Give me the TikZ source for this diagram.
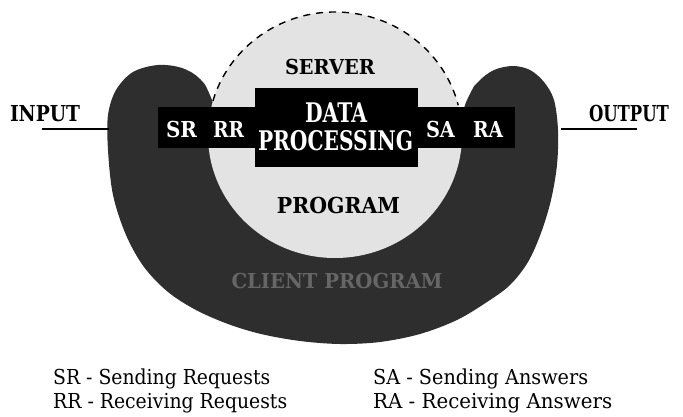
\documentclass[tikz,border=0pt]{standalone}
\usepackage{fontspec}
\setmainfont{DejaVu Serif}
\newfontfamily\dserif{DejaVu Serif}
\newcommand{\fitw}[3]{\resizebox{#1pt}{\height}{\dserif\fontsize{#2}{#2}\selectfont #3}}
\newcommand{\fitwb}[3]{\resizebox{#1pt}{\height}{\dserif\fontsize{#2}{#2}\selectfont\bfseries #3}}
\begin{document}
\begin{tikzpicture}[x=1pt,y=-1pt,
  lbl/.style={inner sep=0, anchor=base},
  wlbl/.style={lbl, text=white},
  legend/.style={anchor=base west, inner sep=0},
  band/.style={fill=black!82},
  srv/.style={fill=black!11},
  blk/.style={fill=black, inner sep=0, draw=none},
  wire/.style={line width=1.3pt},
  dashline/.style={line width=1.4pt, dash pattern=on 7pt off 6pt}]
\useasboundingbox (0,0) rectangle (683,417);
% client band
\fill[band] plot[smooth cycle, tension=0.55] coordinates {(212,100) (200,79) (182,68) (158,65) (133,72) (116,90) (108,115) (108,150) (113,195) (126,235) (144,267) (168,292) (196,310) (228,324) (261,334) (300,341) (340,344) (380,342) (420,334) (457,320) (487,302) (510,285) (528,262) (541,233) (551,200) (557,165) (558,130) (554,100) (544,82) (530,70) (513,66) (494,70) (478,82) (467,100) (420,200) (250,200)};
\node[lbl, text=black!60] (client) at (337,288) {\fitwb{211}{20.6}{CLIENT PROGRAM}};
% server
\fill[srv] (335,135) ellipse [x radius=127, y radius=123];
\draw[dashline] ([shift={(190:127 and 123)}]335,135) arc[start angle=190, end angle=346, x radius=127, y radius=123];
% black bar and box
\node[blk, minimum width=357pt, minimum height=41pt] (bar) at (336.5,127.5) {};
\node[blk, minimum width=163pt, minimum height=79pt] (dp) at (336.5,127.5) {};
\node[wlbl] (data) at (336,123) {\fitwb{62}{27}{DATA}};
\node[wlbl] (proc) at (335.5,150) {\fitwb{155}{27}{PROCESSING}};
\node[wlbl] (sr) at (181.5,138) {\fitwb{31}{22}{SR}};
\node[wlbl] (rr) at (228.5,138) {\fitwb{31}{22}{RR}};
\node[wlbl] (sa) at (440.5,138) {\fitwb{29}{22}{SA}};
\node[wlbl] (ra) at (488,138) {\fitwb{30}{22}{RA}};
\node[lbl] (server) at (330,75) {\fitwb{90}{20.6}{SERVER}};
\node[lbl] (program) at (338.5,213) {\fitwb{123}{22}{PROGRAM}};
% input / output
\node[lbl] (input) at (45,122) {\fitwb{70}{22}{INPUT}};
\node[lbl] (output) at (629,122) {\fitwb{80}{22}{OUTPUT}};
\coordinate (inA) at (42,129);
\coordinate (inB) at (109,129);
\coordinate (outA) at (561,129);
\coordinate (outB) at (637,129);
\draw[wire] (inA) -- (inB);
\draw[wire] (outA) -- (outB);
% legend
\node[legend] (l1) at (53,384) {\fitw{217}{20.6}{SR - Sending Requests}};
\node[legend] (l2) at (53,408) {\fitw{234}{20.6}{RR - Receiving Requests}};
\node[legend] (l3) at (373,384) {\fitw{215}{20.6}{SA - Sending Answers}};
\node[legend] (l4) at (373,408) {\fitw{239}{20.6}{RA - Receiving Answers}};
\end{tikzpicture}
\end{document}
